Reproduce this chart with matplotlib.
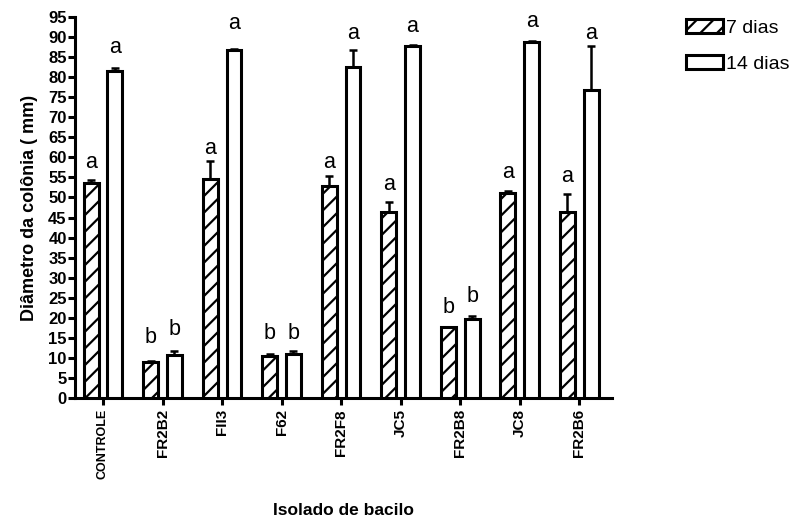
import matplotlib

matplotlib.use("Agg")
import matplotlib.pyplot as plt
import numpy as np

plt.rcParams.update(
    {
        "font.family": ["Liberation Sans", "DejaVu Sans"],
        "hatch.linewidth": 1.6,
        "axes.linewidth": 2.2,
    }
)

# isolates (x categories)
isolates = ["CONTROLE", "FR2B2", "FII3", "F62", "FR2F8", "JC5", "FR2B8", "JC8", "FR2B6"]

# colony diameter (mm), means
mean_7 = [53.7, 9.1, 54.6, 10.5, 52.9, 46.5, 17.7, 51.0, 46.5]
mean_14 = [81.6, 10.8, 86.7, 11.0, 82.6, 87.8, 19.8, 88.8, 76.7]

# upper error bars (only drawn upward)
err_7 = [0.6, 0.2, 4.5, 0.4, 2.5, 2.3, 0.1, 0.5, 4.3]
err_14 = [0.7, 0.8, 0.4, 0.6, 4.1, 0.3, 0.7, 0.2, 11.1]

# significance letters and the height they sit at
letters_7 = ["a", "b", "a", "b", "a", "a", "b", "a", "a"]
letters_14 = ["a", "b", "a", "b", "a", "a", "b", "a", "a"]
letter_y_7 = [57.3, 13.8, 60.8, 14.8, 57.3, 51.9, 21.2, 54.8, 53.9]
letter_y_14 = [85.9, 15.8, 91.9, 14.8, 89.4, 91.3, 24.0, 92.5, 89.4]

W = 797 / 100
H = 521 / 100
fig = plt.figure(figsize=(W, H), dpi=100)
ax = fig.add_axes([75 / 797, 1 - 398 / 521, (612 - 75) / 797, (398 - 17) / 521])

x = np.arange(len(isolates))
bw = 0.25
off = 0.2

b7 = ax.bar(
    x - off, mean_7, bw, color="white", edgecolor="black", linewidth=2.2,
    hatch="//", label="7 dias", zorder=3,
)
b14 = ax.bar(
    x + off, mean_14, bw, color="white", edgecolor="black", linewidth=2.2,
    label="14 dias", zorder=3,
)
ax.errorbar(
    x - off, mean_7, yerr=[np.zeros(len(x)), err_7], fmt="none",
    ecolor="black", elinewidth=1.8, capsize=3, capthick=1.8, zorder=2,
)
ax.errorbar(
    x + off, mean_14, yerr=[np.zeros(len(x)), err_14], fmt="none",
    ecolor="black", elinewidth=1.8, capsize=3, capthick=1.8, zorder=2,
)

for i in range(len(x)):
    ax.text(x[i] - off, letter_y_7[i], letters_7[i], ha="center", va="baseline", fontsize=15.5)
    ax.text(x[i] + off, letter_y_14[i], letters_14[i], ha="center", va="baseline", fontsize=15.5)

ax.set_xlim(-0.47, 8.55)
ax.set_ylim(0, 95)
ax.set_yticks(np.arange(0, 96, 5))
ax.set_xticks(x)
ax.set_xticklabels(isolates, rotation=90, fontweight="bold", fontsize=11)
# the long label is squeezed in the original
ax.get_xticklabels()[0].set_fontsize(9)
for lab in ax.get_yticklabels():
    lab.set_fontweight("bold")
    lab.set_fontsize(12)
ax.tick_params(axis="both", direction="out", length=5, width=2.2, pad=1, color="black")
ax.tick_params(axis="x", pad=3)
ax.spines["top"].set_visible(False)
ax.spines["right"].set_visible(False)

ax.set_ylabel("Diâmetro da colônia ( mm)", fontweight="bold", fontsize=13, labelpad=7)
ax.set_xlabel("Isolado de bacilo", fontweight="bold", fontsize=12.5, labelpad=17)

fig.legend(
    handles=[b7, b14], labels=["7 dias", "14 dias"],
    loc="upper left", bbox_to_anchor=(678 / 797, 1 - 11 / 521),
    frameon=False, fontsize=14, handlelength=1.9, handleheight=0.75,
    handletextpad=0.15, labelspacing=0.95, borderaxespad=0,
)

fig.savefig("out.png", dpi=100)
